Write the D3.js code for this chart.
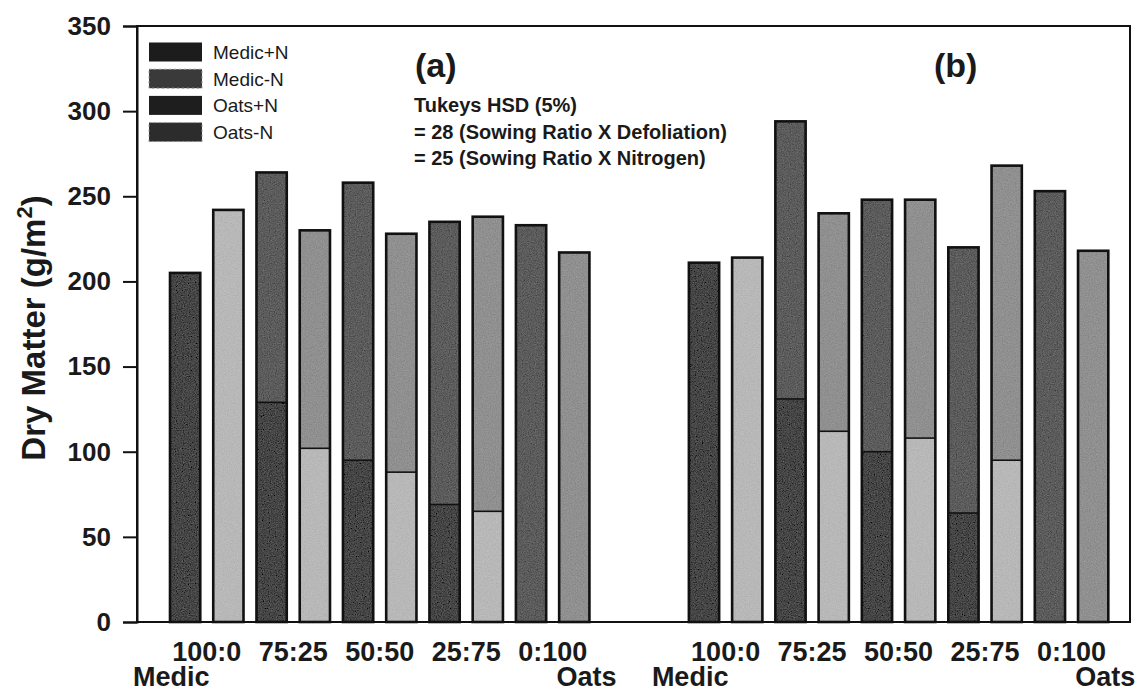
<!DOCTYPE html>
<html>
<head>
<meta charset="utf-8">
<script src="https://cdn.jsdelivr.net/npm/d3@7"></script>
<style>
  html, body { margin: 0; padding: 0; background: #fff; }
  svg { display: block; font-family: "Liberation Sans", Arial, Helvetica, sans-serif; }
</style>
</head>
<body>
<script>
// Sowing ratios (Medic:Oats) along the x axis of each panel
const ratios = ["100:0", "75:25", "50:50", "25:75", "0:100"];
const panelLabels = ["(a)", "(b)"];
const legendLabels = ["Medic+N", "Medic-N", "Oats+N", "Oats-N"];
const yTicks = [0, 50, 100, 150, 200, 250, 300, 350];

// Dry matter (g/m2): medic component (bottom of stack) and oats component (top)
const medicPlusN_a  = [205, 129, 95, 69, 0];
const oatsPlusN_a   = [0, 135, 163, 166, 233];
const medicMinusN_a = [242, 102, 88, 65, 0];
const oatsMinusN_a  = [0, 128, 140, 173, 217];

const medicPlusN_b  = [211, 131, 100, 64, 0];
const oatsPlusN_b   = [0, 163, 148, 156, 253];
const medicMinusN_b = [214, 112, 108, 95, 0];
const oatsMinusN_b  = [0, 128, 140, 173, 218];

const hsdLines = [
  "Tukeys HSD (5%)",
  "= 28 (Sowing Ratio X Defoliation)",
  "= 25 (Sowing Ratio X Nitrogen)"
];

// Fill tones for each component
const fills = {
  "Medic+N": "#464646",
  "Medic-N": "#b8b8b8",
  "Oats+N":  "#5c5c5c",
  "Oats-N":  "#909090"
};
const legendFills = ["#1c1c1c", "#3a3a3a", "#1e1e1e", "#2c2c2c"];

// Build bar records: two bars (+N, -N) per ratio, two panels with a gap
const panelData = [
  { label: panelLabels[0], mp: medicPlusN_a, op: oatsPlusN_a, mm: medicMinusN_a, om: oatsMinusN_a },
  { label: panelLabels[1], mp: medicPlusN_b, op: oatsPlusN_b, mm: medicMinusN_b, om: oatsMinusN_b }
];
const bars = [];
const keys = [];
panelData.forEach((p, pi) => {
  if (pi > 0) { keys.push("gap1", "gap2"); }
  ratios.forEach((r, i) => {
    const kp = `${pi}-${r}-plus`, km = `${pi}-${r}-minus`;
    keys.push(kp, km);
    bars.push({ key: kp, panel: pi, ratio: r, medic: p.mp[i], oats: p.op[i], mFill: fills["Medic+N"], oFill: fills["Oats+N"] });
    bars.push({ key: km, panel: pi, ratio: r, medic: p.mm[i], oats: p.om[i], mFill: fills["Medic-N"], oFill: fills["Oats-N"] });
  });
});

const W = 1139, H = 693;
const svg = d3.select("body").append("svg").attr("width", W).attr("height", H);

// Grain texture for the bar fills
const defs = svg.append("defs");
const f = defs.append("filter").attr("id", "grain").attr("x", 0).attr("y", 0).attr("width", 1).attr("height", 1);
f.append("feTurbulence").attr("type", "fractalNoise").attr("baseFrequency", 0.85).attr("numOctaves", 2).attr("seed", 7).attr("result", "noise");
f.append("feColorMatrix").attr("in", "noise").attr("type", "matrix")
  .attr("values", "0.33 0.33 0.33 0 0  0.33 0.33 0.33 0 0  0.33 0.33 0.33 0 0  0 0 0 0 1").attr("result", "gray");
f.append("feComposite").attr("in", "SourceGraphic").attr("in2", "gray").attr("operator", "arithmetic")
  .attr("k1", 0).attr("k2", 1).attr("k3", 0.3).attr("k4", -0.15).attr("result", "mix");
f.append("feComposite").attr("in", "mix").attr("in2", "SourceGraphic").attr("operator", "in");

const y = d3.scaleLinear().domain([0, 350]).range([622, 26]);
const x = d3.scaleBand().domain(keys).range([170, 1108.3]).paddingInner(0.3).paddingOuter(0);
const bw = x.bandwidth();

// Bars: medic segment at the bottom, oats segment stacked on top
const g = svg.append("g");
const bar = g.selectAll("g.bar").data(bars).join("g").attr("class", "bar");
bar.filter(d => d.medic > 0).append("rect")
  .attr("x", d => x(d.key)).attr("width", bw)
  .attr("y", d => y(d.medic)).attr("height", d => y(0) - y(d.medic))
  .attr("fill", d => d.mFill).attr("filter", "url(#grain)");
bar.filter(d => d.oats > 0).append("rect")
  .attr("x", d => x(d.key)).attr("width", bw)
  .attr("y", d => y(d.medic + d.oats)).attr("height", d => y(d.medic) - y(d.medic + d.oats))
  .attr("fill", d => d.oFill).attr("filter", "url(#grain)");
// divider between the two components
bar.filter(d => d.medic > 0 && d.oats > 0).append("line")
  .attr("x1", d => x(d.key)).attr("x2", d => x(d.key) + bw)
  .attr("y1", d => y(d.medic)).attr("y2", d => y(d.medic))
  .attr("stroke", "#111").attr("stroke-width", 1.6);
// outline
bar.append("rect")
  .attr("x", d => x(d.key)).attr("width", bw)
  .attr("y", d => y(d.medic + d.oats)).attr("height", d => y(0) - y(d.medic + d.oats))
  .attr("fill", "none").attr("stroke", "#111").attr("stroke-width", 2.6);

// Frame
svg.append("rect").attr("x", 137).attr("y", y(350)).attr("width", 1130 - 137).attr("height", y(0) - y(350))
  .attr("fill", "none").attr("stroke", "#111").attr("stroke-width", 2);

// Y axis
const yAxis = svg.append("g").attr("transform", "translate(137,0)")
  .call(d3.axisLeft(y).tickValues(yTicks).tickSize(14).tickPadding(12));
yAxis.select(".domain").attr("stroke", "#111").attr("stroke-width", 2);
yAxis.selectAll(".tick line").attr("stroke", "#111").attr("stroke-width", 2);
yAxis.selectAll(".tick text").attr("fill", "#1a1a1a").style("font-size", "26px").style("font-weight", "bold")
  .style("font-family", "'Liberation Sans', Arial, sans-serif");

// Y title
const yt = svg.append("text").attr("transform", "translate(45,328) rotate(-90)")
  .attr("text-anchor", "middle").attr("fill", "#1a1a1a")
  .style("font-size", "33px").style("font-weight", "bold");
yt.append("tspan").text("Dry Matter (g/m");
yt.append("tspan").text("2").attr("dy", -13).style("font-size", "22px");
yt.append("tspan").text(")").attr("dy", 13);

// X labels: ratio under each pair, Medic / Oats under the ends
const xl = svg.append("g").attr("fill", "#1a1a1a").style("font-weight", "bold");
panelData.forEach((p, pi) => {
  ratios.forEach(r => {
    const cx = (x(`${pi}-${r}-plus`) + x(`${pi}-${r}-minus`) + bw) / 2;
    xl.append("text").attr("x", cx).attr("y", 661).attr("text-anchor", "middle")
      .style("font-size", "27px").text(r);
  });
  xl.append("text").attr("x", x(`${pi}-${ratios[0]}-plus`) - 37).attr("y", 686)
    .style("font-size", "27px").text("Medic");
  xl.append("text").attr("x", x(`${pi}-${ratios[ratios.length - 1]}-minus`) + bw + 27).attr("y", 686)
    .attr("text-anchor", "end").style("font-size", "27px").text("Oats");
  // panel label
  svg.append("text").attr("x", x(`${pi}-${ratios[0]}-plus`) + 245).attr("y", 77)
    .attr("fill", "#1a1a1a").style("font-size", "34px").style("font-weight", "bold").text(p.label);
});

// Tukeys HSD note
const note = svg.append("g").attr("fill", "#1a1a1a").style("font-size", "20px").style("font-weight", "bold");
hsdLines.forEach((t, i) => {
  note.append("text").attr("x", 414).attr("y", 112 + i * 26.5).text(t);
});

// Legend
const lg = svg.append("g");
legendLabels.forEach((t, i) => {
  const cy = 52 + i * 26.7;
  lg.append("rect").attr("x", 149).attr("y", cy - 9.5).attr("width", 53).attr("height", 19)
    .attr("fill", legendFills[i])
    .attr("stroke", i % 2 === 1 ? "#9a9a9a" : "none").attr("stroke-width", 1).attr("stroke-dasharray", i % 2 === 1 ? "2,3" : null);
  lg.append("text").attr("x", 213).attr("y", cy + 7).attr("fill", "#1a1a1a")
    .style("font-size", "19px").text(t);
});
</script>
</body>
</html>
